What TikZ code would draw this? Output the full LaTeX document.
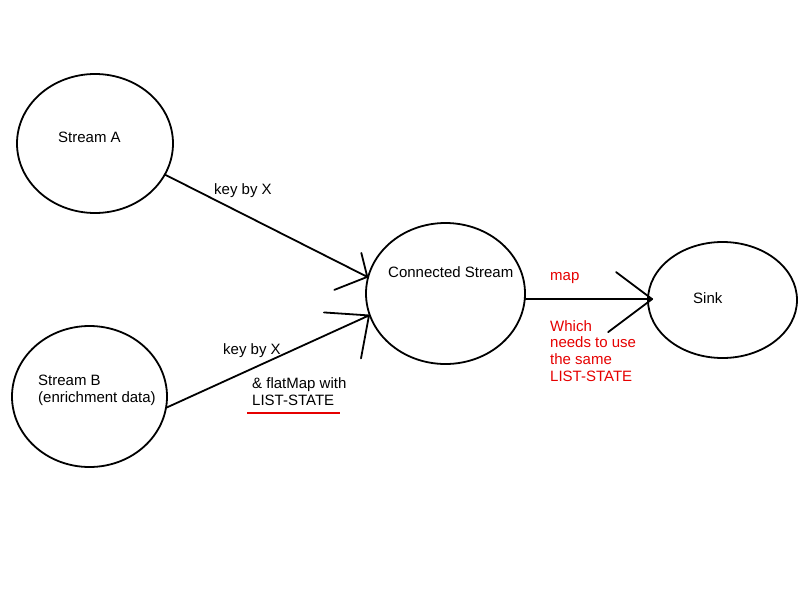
\documentclass[tikz,border=0pt]{standalone}
\usepackage{fontspec}
\setmainfont{Liberation Sans}
\usetikzlibrary{shapes.geometric}
\definecolor{notered}{RGB}{230,0,0}
\tikzset{
  bubble/.style={ellipse, draw=black, line width=1.8pt, inner sep=0pt},
  lbl/.style={inner sep=0pt, font=\fontsize{15}{16.7}\selectfont, align=left},
  redlbl/.style={lbl, text=notered},
  conn/.style={draw=black, line width=1.8pt, line cap=round, line join=round}
}
\begin{document}
\begin{tikzpicture}[x=1pt,y=-1pt]
\useasboundingbox (0,0) rectangle (800,600);
\fill[white] (0,0) rectangle (800,600);

% ellipses
\node[bubble, minimum width=156pt, minimum height=139pt] (A) at (95,143.5) {};
\node[bubble, minimum width=155pt, minimum height=141pt] (B) at (89.5,396.5) {};
\node[bubble, minimum width=159pt, minimum height=141pt] (C) at (445.5,293.5) {};
\node[bubble, minimum width=149pt, minimum height=116pt] (S) at (722.5,300) {};

% labels
\node[lbl, anchor=base west] (tA) at (58,142.5) {Stream A};
\node[lbl, anchor=north west] (tB) at (38,375) {Stream B\\(enrichment data)};
\node[lbl, anchor=base west] (tC) at (388,277) {Connected Stream};
\node[lbl, anchor=base west] (tS) at (693,303) {Sink};
\node[lbl, anchor=base west] (k1) at (214,194.5) {key by X};
\node[lbl, anchor=base west] (k2) at (223,354.5) {key by X};
\node[lbl, anchor=north west] (fm) at (252,377.5) {\& flatMap with\\LIST-STATE};
\node[redlbl, anchor=base west] (mp) at (550,280) {map};
\node[redlbl, anchor=north west] (wh) at (550,320) {Which\\needs to use\\the same\\LIST-STATE};

% underline
\coordinate (u1) at (247,412.5);
\coordinate (u2) at (340,412.5);
\draw[notered, line width=2pt] (u1) -- (u2);

% connectors with hand-drawn open heads
\draw[conn] (A.-24) -- (C.168) -- ++(-6,-24) (C.168) -- ++(-33,13);
\draw[conn] (B.-8) -- (C.196) -- ++(-45,-3) (C.196) -- ++(-8,43);
\coordinate (cs) at (C.-4);
\coordinate (st) at ([xshift=5pt]cs -| S.west);
\draw[conn] (cs) -- (st);
\draw[conn] (st) -- ++(-36,-27) (st) -- ++(-44,33);
\end{tikzpicture}
\end{document}
